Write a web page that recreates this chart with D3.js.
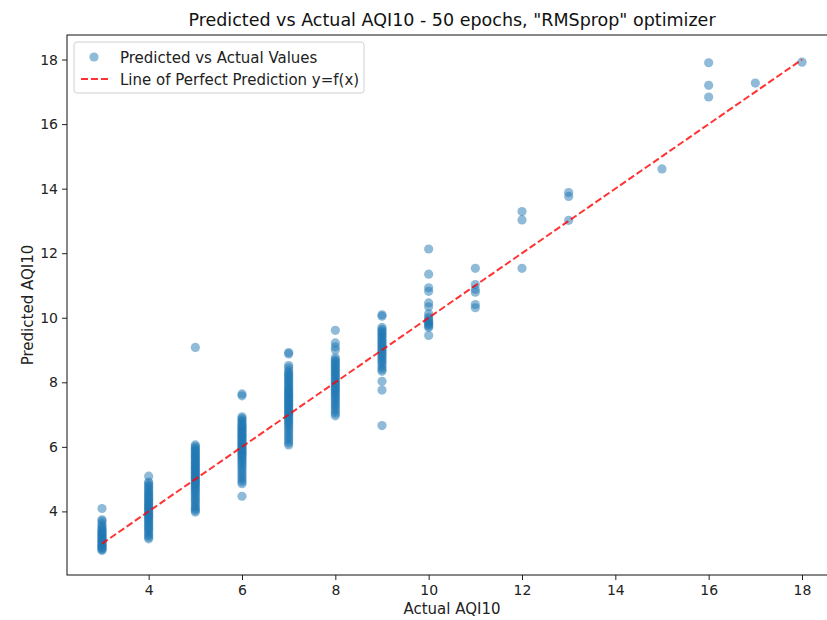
<!DOCTYPE html>
<html>
<head>
<meta charset="utf-8">
<script src="https://cdn.jsdelivr.net/npm/d3@7"></script>
<style>
  body { margin: 0; background: #fff; }
  svg { display: block; font-family: "DejaVu Sans", sans-serif; }
</style>
</head>
<body>
<div id="chart"></div>
<script>
// actual AQI10 classes and predicted values
var actualValues = [3, 4, 5, 6, 7, 8, 9, 10, 11, 12, 13, 15, 16, 17, 18];

var predAt3 = [4.09, 3.74, 3.70, 3.62, 3.55, 3.50, 3.44, 3.41, 3.37, 3.33, 3.30, 3.26, 3.22, 3.19,
  3.15, 3.12, 3.08, 3.05, 3.02, 2.98, 2.95, 2.92, 2.88, 2.85, 2.82, 2.79];
var predAt4 = [5.09, 4.91, 4.86, 4.80, 4.75, 4.70, 4.64, 4.60, 4.55, 4.50, 4.46, 4.41, 4.37, 4.33,
  4.28, 4.24, 4.20, 4.16, 4.12, 4.08, 4.04, 4.00, 3.96, 3.92, 3.88, 3.84, 3.80, 3.76, 3.71, 3.66,
  3.62, 3.57, 3.52, 3.47, 3.42, 3.37, 3.31, 3.26, 3.20, 3.15];
var predAt5 = [9.08, 6.06, 6.01, 5.96, 5.92, 5.87, 5.83, 5.79, 5.74, 5.70, 5.66, 5.62, 5.58, 5.53,
  5.49, 5.45, 5.41, 5.37, 5.33, 5.29, 5.25, 5.21, 5.17, 5.13, 5.09, 5.05, 5.01, 4.97, 4.93, 4.89,
  4.85, 4.80, 4.76, 4.71, 4.66, 4.61, 4.56, 4.50, 4.44, 4.38, 4.32, 4.26, 4.20, 4.14, 4.08, 4.03, 3.98];
var predAt6 = [7.64, 7.58, 6.93, 6.88, 6.83, 6.78, 6.73, 6.68, 6.64, 6.60, 6.56, 6.52, 6.48, 6.44,
  6.40, 6.36, 6.32, 6.28, 6.24, 6.20, 6.16, 6.12, 6.08, 6.04, 6.00, 5.96, 5.92, 5.88, 5.84, 5.80,
  5.76, 5.72, 5.67, 5.62, 5.57, 5.52, 5.46, 5.40, 5.34, 5.27, 5.20, 5.13, 5.06, 4.99, 4.92, 4.86, 4.47];
var predAt7 = [8.92, 8.88, 8.52, 8.45, 8.36, 8.30, 8.25, 8.20, 8.15, 8.10, 8.05, 8.00, 7.95, 7.90,
  7.85, 7.80, 7.76, 7.72, 7.68, 7.64, 7.60, 7.56, 7.52, 7.48, 7.44, 7.40, 7.36, 7.32, 7.28, 7.24,
  7.20, 7.16, 7.12, 7.08, 7.04, 7.00, 6.96, 6.92, 6.87, 6.82, 6.77, 6.72, 6.66, 6.60, 6.54, 6.47,
  6.40, 6.33, 6.26, 6.19, 6.12, 6.06];
var predAt8 = [9.61, 9.22, 9.10, 9.00, 8.76, 8.70, 8.65, 8.60, 8.55, 8.50, 8.45, 8.40, 8.35, 8.30,
  8.25, 8.20, 8.15, 8.10, 8.05, 8.00, 7.95, 7.90, 7.85, 7.80, 7.75, 7.70, 7.65, 7.60, 7.54, 7.48,
  7.42, 7.36, 7.30, 7.24, 7.17, 7.10, 7.03, 6.96];
var predAt9 = [10.09, 10.05, 9.70, 9.64, 9.59, 9.54, 9.49, 9.44, 9.39, 9.34, 9.29, 9.24, 9.19, 9.14,
  9.09, 9.04, 8.99, 8.94, 8.89, 8.84, 8.79, 8.73, 8.67, 8.61, 8.54, 8.47, 8.40, 8.34, 8.03, 7.76, 6.66];
var predAt10 = [12.13, 11.35, 10.93, 10.82, 10.46, 10.34, 10.12, 10.02, 9.96, 9.90, 9.86, 9.82,
  9.78, 9.74, 9.70, 9.45];
var predAt11 = [11.53, 11.03, 10.88, 10.79, 10.41, 10.31];
var predAt12 = [13.29, 13.03, 11.53];
var predAt13 = [13.88, 13.76, 13.02];
var predAt15 = [14.61];
var predAt16 = [17.90, 17.20, 16.84];
var predAt17 = [17.27];
var predAt18 = [17.92];

var predLists = [predAt3, predAt4, predAt5, predAt6, predAt7, predAt8, predAt9, predAt10,
  predAt11, predAt12, predAt13, predAt15, predAt16, predAt17, predAt18];

var xTicks = [4, 6, 8, 10, 12, 14, 16, 18];
var yTicks = [4, 6, 8, 10, 12, 14, 16, 18];
var perfectLine = [3, 18];

var points = [];
for (var i = 0; i < actualValues.length; i++) {
  for (var j = 0; j < predLists[i].length; j++) {
    points.push({ actual: actualValues[i], pred: predLists[i][j] });
  }
}

var width = 827, height = 620;
var plotLeft = 67, plotRight = 837, plotTop = 35, plotBottom = 575;

var svg = d3.select("#chart").append("svg")
  .attr("width", width).attr("height", height);

// matplotlib style 5% margins
var xMin = d3.min(points, function(d) { return d.actual; }),
    xMax = d3.max(points, function(d) { return d.actual; });
var yMin = d3.min(points, function(d) { return d.pred; }),
    yMax = d3.max([d3.max(points, function(d) { return d.pred; }), perfectLine[1]]);
var xPad = (xMax - xMin) * 0.05, yPad = (yMax - yMin) * 0.05;

var x = d3.scaleLinear().domain([xMin - xPad, xMax + xPad]).range([plotLeft, plotRight]);
var y = d3.scaleLinear().domain([yMin - yPad, yMax + yPad]).range([plotBottom, plotTop]);

svg.append("g").attr("class", "dots")
  .selectAll("circle").data(points).enter()
  .append("circle")
  .attr("cx", function(d) { return x(d.actual); })
  .attr("cy", function(d) { return y(d.pred); })
  .attr("r", 4.6)
  .style("fill", "#1f77b4")
  .style("opacity", 0.5);

svg.append("line")
  .attr("x1", x(perfectLine[0])).attr("y1", y(perfectLine[0]))
  .attr("x2", x(perfectLine[1])).attr("y2", y(perfectLine[1]))
  .style("stroke", "#ff0000").style("stroke-opacity", 0.8)
  .style("stroke-width", 2).style("stroke-dasharray", "7,3");

// axes
function styleAxis(g) {
  g.select(".domain").remove();
  g.selectAll(".tick line").style("stroke", "#222");
  g.selectAll(".tick text").style("font-size", "14px").style("fill", "#222")
    .style("font-family", "DejaVu Sans, sans-serif");
}
var xAxis = d3.axisBottom(x).tickValues(xTicks).tickSize(5).tickPadding(5).tickFormat(d3.format("d"));
var yAxis = d3.axisLeft(y).tickValues(yTicks).tickSize(5).tickPadding(4).tickFormat(d3.format("d"));
svg.append("g").attr("transform", "translate(0," + plotBottom + ")").call(xAxis).call(styleAxis);
svg.append("g").attr("transform", "translate(" + plotLeft + ",0)").call(yAxis).call(styleAxis);

svg.append("rect")
  .attr("x", plotLeft).attr("y", plotTop)
  .attr("width", plotRight - plotLeft).attr("height", plotBottom - plotTop)
  .style("fill", "none").style("stroke", "#111").style("stroke-width", 1);

svg.append("text")
  .attr("x", (plotLeft + plotRight) / 2).attr("y", 26)
  .attr("text-anchor", "middle").style("font-size", "17.5px").style("fill", "#111")
  .text('Predicted vs Actual AQI10 - 50 epochs, "RMSprop" optimizer');

svg.append("text")
  .attr("x", (plotLeft + plotRight) / 2).attr("y", 614)
  .attr("text-anchor", "middle").style("font-size", "15px").style("fill", "#222")
  .text("Actual AQI10");

svg.append("text")
  .attr("transform", "translate(33," + ((plotTop + plotBottom) / 2) + ") rotate(-90)")
  .attr("text-anchor", "middle").style("font-size", "15px").style("fill", "#222")
  .text("Predicted AQI10");

// legend
var legend = svg.append("g").attr("transform", "translate(74,42)");
legend.append("rect")
  .attr("width", 290).attr("height", 51).attr("rx", 3)
  .style("fill", "#fff").style("fill-opacity", 0.8)
  .style("stroke", "#d0d0d0").style("stroke-width", 1);
legend.append("circle")
  .attr("cx", 20).attr("cy", 15).attr("r", 4.6)
  .style("fill", "#1f77b4").style("opacity", 0.5);
legend.append("line")
  .attr("x1", 7).attr("x2", 35).attr("y1", 37).attr("y2", 37)
  .style("stroke", "#ff0000").style("stroke-opacity", 0.8)
  .style("stroke-width", 2).style("stroke-dasharray", "7,3");
legend.append("text").attr("x", 46).attr("y", 20.5)
  .style("font-size", "15px").style("fill", "#222").text("Predicted vs Actual Values");
legend.append("text").attr("x", 46).attr("y", 42.5)
  .style("font-size", "15px").style("fill", "#222").text("Line of Perfect Prediction y=f(x)");
</script>
</body>
</html>
